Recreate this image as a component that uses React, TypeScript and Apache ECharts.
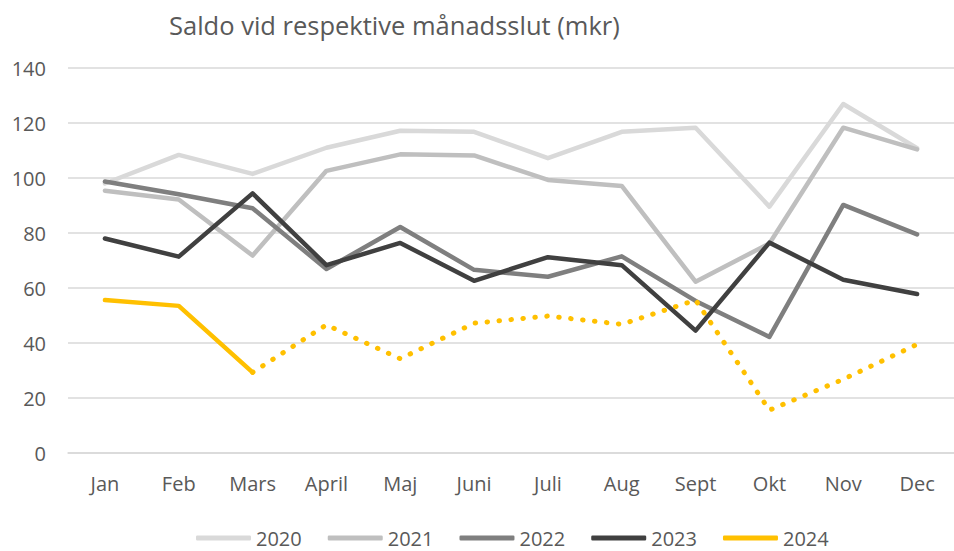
import React, { useEffect, useRef } from "react";
import * as echarts from "echarts";

const months = ["Jan", "Feb", "Mars", "April", "Maj", "Juni", "Juli", "Aug", "Sept", "Okt", "Nov", "Dec"];
const s2020 = [98, 108.4, 101.5, 111, 117.2, 116.8, 107.2, 116.8, 118.3, 89.6, 126.9, 110.8];
const s2021 = [95.4, 92.2, 71.8, 102.6, 108.6, 108.2, 99.3, 97.1, 62.3, 76.2, 118.3, 110.4];
const s2022 = [98.7, 94.1, 89, 66.9, 82.2, 66.6, 64.1, 71.5, 55.3, 42.2, 90.2, 79.5];
const s2023 = [78, 71.4, 94.4, 68.3, 76.4, 62.6, 71.2, 68.3, 44.5, 76.5, 63, 57.8];
const s2024 = [55.6, 53.5, 29.3, null, null, null, null, null, null, null, null, null];
const s2024prognos = [null, null, 29.3, 46.6, 34.3, 47.2, 49.8, 46.8, 55.6, 15.6, 26.8, 39.5];
const yTicks = { min: 0, max: 140, interval: 20 };

const seriesColors = ["#d9d9d9", "#bfbfbf", "#7f7f7f", "#404040", "#ffc000"];
const FONT = "'Open Sans', sans-serif";

export default function App() {
  const ref = useRef<HTMLDivElement>(null);
  useEffect(() => {
    if (!ref.current) return;
    const chart = echarts.init(ref.current, null, { renderer: "svg" });
    const mk = (name: string, data: (number | null)[], color: string, dotted = false) => ({
      name,
      type: "line",
      data,
      symbol: "none",
      showSymbol: false,
      connectNulls: false,
      lineStyle: {
        color,
        width: dotted ? 5 : 4.5,
        cap: "round",
        join: "round",
        type: dotted ? [0.5, 11.5] : "solid",
      },
      itemStyle: { color },
      emphasis: { disabled: true },
    });
    chart.setOption({
      animation: false,
      color: seriesColors,
      title: {
        text: "Saldo vid respektive månadsslut (mkr)",
        left: 164,
        top: 7,
        textStyle: { fontFamily: FONT, fontSize: 25.5, fontWeight: "normal", color: "#595959" },
      },
      legend: {
        data: ["2020", "2021", "2022", "2023", "2024"],
        left: 191,
        top: 523,
        icon: "roundRect",
        itemWidth: 55,
        itemHeight: 5,
        itemGap: 26,
        textStyle: { fontFamily: FONT, fontSize: 20, color: "#595959" },
      },
      grid: { left: 68, right: -9, top: 68, bottom: 98, containLabel: false },
      xAxis: {
        type: "category",
        data: months,
        boundaryGap: true,
        axisLine: { show: true, lineStyle: { color: "#d9d9d9", width: 1.5 } },
        axisTick: { show: false },
        axisLabel: { fontFamily: FONT, fontSize: 20, color: "#595959", margin: 20 },
      },
      yAxis: {
        type: "value",
        min: yTicks.min,
        max: yTicks.max,
        interval: yTicks.interval,
        axisLine: { show: false },
        axisTick: { show: false },
        splitLine: { lineStyle: { color: "#d9d9d9", width: 1.5 } },
        axisLabel: { fontFamily: FONT, fontSize: 20, color: "#595959", margin: 22 },
      },
      series: [
        mk("2020", s2020, seriesColors[0]),
        mk("2021", s2021, seriesColors[1]),
        mk("2022", s2022, seriesColors[2]),
        mk("2023", s2023, seriesColors[3]),
        mk("2024", s2024, seriesColors[4]),
        mk("2024 prognos", s2024prognos, seriesColors[4], true),
      ],
    });
    return () => chart.dispose();
  }, []);
  return <div ref={ref} style={{ width: 954, height: 551, position: "absolute", left: 0, top: 0 }} />;
}
